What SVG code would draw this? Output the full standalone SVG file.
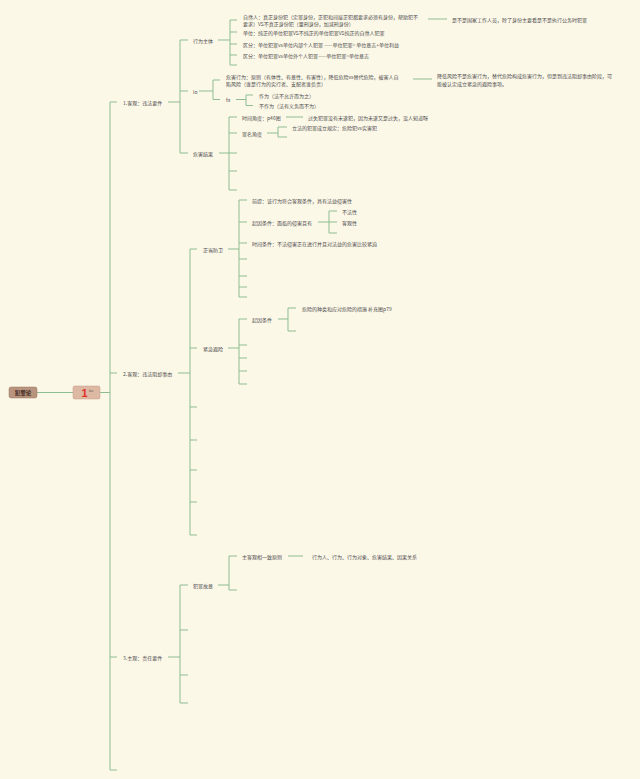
<svg xmlns="http://www.w3.org/2000/svg" width="640" height="779" viewBox="0 0 640 779">
<style>
.t{font-family:"Noto Sans CJK SC","Noto Sans",sans-serif;font-size:5px;fill:#4d4d4d;dominant-baseline:central}
.c path{stroke:#8dbd90;stroke-width:1;fill:none}
</style>
<rect width="640" height="779" fill="#fcf8e8"/>
<g class="c" id="connectors">
<path d="M37 392.5H73M100 392.5H110M110 102V770M110 102H117M110 373H117M110 657H117M110 770H117"/>
<path d="M168 102H180M180 40V153M180 40H188M180 91H188M180 153H188"/>
<path d="M218 40H230M230 20V65M230 20H237M230 32H237M230 44H237M230 55H237M230 65H237M428 19H447"/>
<path d="M199 91H213M213 80V99.5M213 80H220M213 99.5H220M413 79H432"/>
<path d="M236 99.5H246M246 95V105.5M246 95H253M246 105.5H253"/>
<path d="M219 153H229M229 117V190M229 117H237M229 133H237M229 153H237M229 171H237M229 190H237M286 117H303"/>
<path d="M267 133H278M278 127V137M278 127H287M278 137H287"/>
<path d="M178 373H190M190 249V535M190 249H197M190 348H197M190 407H197M190 440H197M190 470H197M190 502H197M190 535H197"/>
<path d="M228 249H239M239 200V297M239 200H247M239 222H247M239 243H247M239 259H247M239 276H247M239 287H247M239 297H247"/>
<path d="M318 222H329M329 211V233M329 211H337M329 222H337M329 233H337"/>
<path d="M228 348H239M239 319V384M239 319H247M239 345H247M239 358H247M239 371H247M239 384H247"/>
<path d="M278 319H288M288 308V331M288 308H296M288 331H296"/>
<path d="M168 657H180M180 585V703M180 585H188M180 630H188M180 675H188M180 703H188"/>
<path d="M218 585H229M229 556V590M229 556H237M229 590H237M288 556H303"/>
</g>
<g id="root"><rect x="9" y="387" width="28" height="11" rx="2" fill="#b8937d" stroke="#9c7a66" stroke-width="0.5"/><text x="23" y="392.5" text-anchor="middle" class="t" style="font-size:5.5px;font-weight:bold;fill:#3d2a1e">犯罪论</text></g>
<g id="n1"><rect x="73" y="386" width="27" height="13" rx="1.5" fill="#ddb8a3" stroke="#c79e89" stroke-width="0.5"/><text x="84.5" y="393" text-anchor="middle" class="t" style="font-size:11px;font-weight:bold;fill:#e0302a;font-family:'Liberation Sans',sans-serif">1</text><text x="89" y="390" class="t" style="font-size:3.5px;fill:#6a5a50">bo</text></g>
<g id="b1"><text x="123" y="102" class="t">1.客观：违法要件</text></g>
<g id="b1a"><text x="193" y="40" class="t">行为主体</text></g>
<g id="b1a1"><text x="243" y="16" class="t">自然人：真正身份犯（定罪身份，正犯和间接正犯都要求必须有身份，帮助犯不</text><text x="243" y="23" class="t">要求）VS不真正身份犯（量刑身份，加减刑身份）</text></g>
<g id="b1a1a"><text x="452" y="19" class="t">是不是国家工作人员，除了身份主要看是不是执行公务时犯罪</text></g>
<g id="b1a2"><text x="243" y="32" class="t">单位：纯正的单位犯罪VS不纯正的单位犯罪VS纯正的自然人犯罪</text></g>
<g id="b1a3"><text x="243" y="44" class="t">区分：单位犯罪vs单位内部个人犯罪 ——单位犯罪= 单位意志+单位利益</text></g>
<g id="b1a4"><text x="243" y="55" class="t">区分：单位犯罪vs单位外个人犯罪——单位犯罪=单位意志</text></g>
<g id="b1b"><text x="193" y="91" class="t">lo</text></g>
<g id="b1b1"><text x="226" y="76.5" class="t">危害行为：原则（有体性、有意性、有害性），降低危险vs替代危险，被害人自</text><text x="226" y="83.5" class="t">陷风险（谁是行为的实行者、支配者谁负责）</text></g>
<g id="b1b1a"><text x="437" y="75.5" class="t">降低风险不是危害行为，替代危险构成危害行为，但是到违法阻却事由阶段，可</text><text x="437" y="83" class="t">能被认定成立紧急的避险事项。</text></g>
<g id="b1b2"><text x="226" y="99.5" class="t">fa</text></g>
<g id="b1b2a"><text x="259" y="95" class="t">作为（法不允许而为之）</text></g>
<g id="b1b2b"><text x="259" y="105.5" class="t">不作为（法有义务而不为）</text></g>
<g id="b1c"><text x="193" y="153" class="t">危害结果</text></g>
<g id="b1c1"><text x="242" y="117" class="t">时间角度：p46图</text></g>
<g id="b1c1a"><text x="308" y="117" class="t">过失犯罪没有未遂犯，因为未遂又是过失，没人知道呀</text></g>
<g id="b1c2"><text x="242" y="133" class="t">罪名角度</text></g>
<g id="b1c2a"><text x="292" y="127" class="t">立法的犯罪成立规定：危险犯vs实害犯</text></g>
<g id="b2"><text x="123" y="373" class="t">2.客观：违法阻却事由</text></g>
<g id="b2a"><text x="203" y="249" class="t">正当防卫</text></g>
<g id="b2a1"><text x="252" y="200" class="t">前提：该行为符合客观条件，具有法益侵害性</text></g>
<g id="b2a2"><text x="252" y="222" class="t">起因条件：面临的侵害且有</text></g>
<g id="b2a2a"><text x="342" y="211" class="t">不法性</text></g>
<g id="b2a2b"><text x="342" y="222" class="t">客观性</text></g>
<g id="b2a3"><text x="252" y="243" class="t">时间条件：不法侵害正在进行并且对法益的危害比较紧迫</text></g>
<g id="b2b"><text x="203" y="348" class="t">紧急避险</text></g>
<g id="b2b1"><text x="252" y="319" class="t">起因条件</text></g>
<g id="b2b1a"><text x="302" y="308" class="t">危险的种类和应对危险的措施 补充图p79</text></g>
<g id="b3"><text x="123" y="657" class="t">3.主观：责任要件</text></g>
<g id="b3a"><text x="193" y="585" class="t">犯罪故意</text></g>
<g id="b3a1"><text x="242" y="556" class="t">主客观相一致原则</text></g>
<g id="b3a1a"><text x="312" y="556" class="t">行为人、行为、行为对象、危害结果、因果关系</text></g>
</svg>
